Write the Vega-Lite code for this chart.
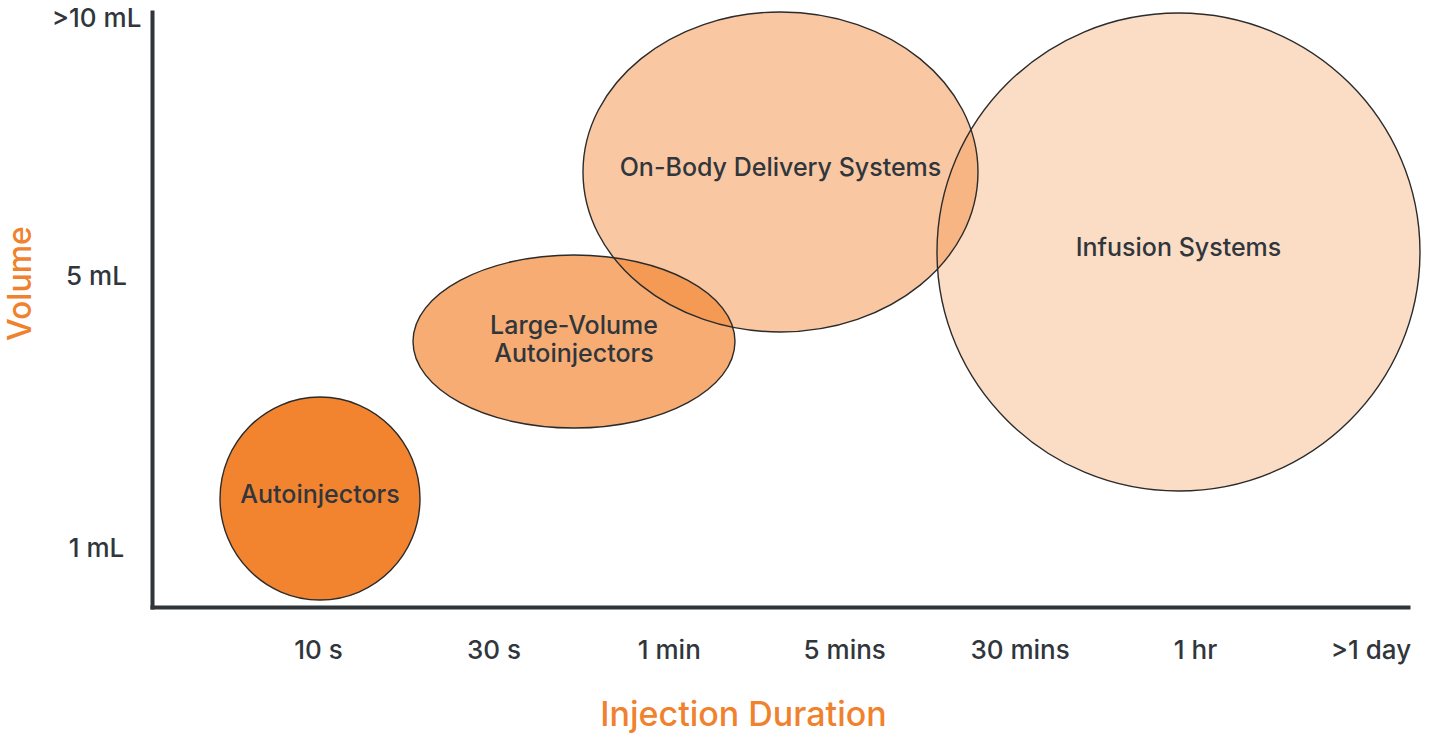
{
  "$schema": "https://vega.github.io/schema/vega-lite/v6.json",
  "width": 1256,
  "height": 595,
  "autosize": {"type": "none"},
  "padding": {"left": 152, "top": 12, "right": 22, "bottom": 133},
  "background": "white",
  "config": {"view": {"stroke": null}, "font": "Inter"},
  "data": {
    "values": [
      {"device": "Autoinjectors", "duration": 1.0114, "volume": 1.19, "label": "Autoinjectors"},
      {"device": "Large-Volume Autoinjectors", "duration": 2.4595, "volume": 1.7815, "label": "Large-Volume\nAutoinjectors"},
      {"device": "On-Body Delivery Systems", "duration": 3.6368, "volume": 2.42, "label": "On-Body Delivery Systems"},
      {"device": "Infusion Systems", "duration": 5.9059, "volume": 2.1186, "label": "Infusion Systems"}
    ]
  },
  "encoding": {
    "x": {
      "field": "duration",
      "type": "quantitative",
      "scale": {"domain": [0.0536, 7.2144], "nice": false, "zero": false},
      "axis": {
        "values": [1, 2, 3, 4, 5, 6, 7],
        "labelExpr": "['10 s','30 s','1 min','5 mins','30 mins','1 hr','>1 day'][datum.value-1]",
        "ticks": false,
        "tickSize": 0,
        "grid": false,
        "domainColor": "#2f353b",
        "domainWidth": 4,
        "domainCap": "square",
        "labelFontSize": 26,
        "labelFontWeight": 550,
        "labelColor": "#30363c",
        "labelPadding": 43,
        "labelBaseline": "middle",
        "labelFlush": false,
        "labelOverlap": false,
        "title": "Injection Duration",
        "titleFontSize": 34,
        "titleFontWeight": 550,
        "titleColor": "#F0822E",
        "titleX": 591,
        "titleY": 108,
        "titleBaseline": "middle",
        "titleAlign": "center"
      }
    },
    "y": {
      "field": "volume",
      "type": "quantitative",
      "scale": {"domain": [0.7815, 3.0226], "nice": false, "zero": false},
      "axis": {
        "values": [1, 2.0245, 3],
        "labelExpr": "datum.value < 1.5 ? '1 mL' : datum.value < 2.5 ? '5 mL' : '>10 mL'",
        "ticks": false,
        "tickSize": 0,
        "grid": false,
        "domainColor": "#2f353b",
        "domainWidth": 4,
        "domainCap": "square",
        "labelFontSize": 26,
        "labelFontWeight": 550,
        "labelColor": "#30363c",
        "labelPadding": 56,
        "labelAlign": "center",
        "labelBaseline": "middle",
        "labelFlush": false,
        "labelOverlap": false,
        "title": "Volume",
        "titleFontSize": 32,
        "titleFontWeight": 550,
        "titleColor": "#F0822E",
        "titleX": -132,
        "titleY": 271,
        "titleAngle": -90,
        "titleBaseline": "middle",
        "titleAlign": "center"
      }
    }
  },
  "layer": [
    {
      "mark": {"type": "point", "filled": true, "size": 4, "strokeWidth": 0, "opacity": 1},
      "encoding": {
        "shape": {
          "field": "device",
          "type": "nominal",
          "legend": null,
          "scale": {
            "domain": ["Autoinjectors", "Large-Volume Autoinjectors", "On-Body Delivery Systems", "Infusion Systems"],
            "range": [
              "M-100,0C-100,-56.06,-55.23,-101.5,0,-101.5C55.23,-101.5,100,-56.06,100,0C100,56.06,55.23,101.5,0,101.5C-55.23,101.5,-100,56.06,-100,0Z",
              "M-161,0C-161,-47.77,-88.92,-86.5,0,-86.5C88.92,-86.5,161,-47.77,161,0C161,47.77,88.92,86.5,0,86.5C-88.92,86.5,-161,47.77,-161,0Z",
              "M-197.5,0C-197.5,-88.37,-109.08,-160,0,-160C109.08,-160,197.5,-88.37,197.5,0C197.5,88.37,109.08,160,0,160C-109.08,160,-197.5,88.37,-197.5,0Z",
              "M-241.5,0C-241.5,-132,-133.38,-239,0,-239C133.38,-239,241.5,-132,241.5,0C241.5,132,133.38,239,0,239C-133.38,239,-241.5,132,-241.5,0Z"
            ]
          }
        },
        "color": {
          "field": "device",
          "type": "nominal",
          "legend": null,
          "scale": {
            "domain": ["Autoinjectors", "Large-Volume Autoinjectors", "On-Body Delivery Systems", "Infusion Systems"],
            "range": ["rgba(242,132,48,1)", "rgba(242,132,48,0.68)", "rgba(242,132,48,0.45)", "rgba(242,132,48,0.28)"]
          }
        }
      }
    },
    {
      "mark": {"type": "point", "filled": false, "size": 4, "stroke": "#2b2b2b", "strokeWidth": 1.4, "opacity": 1},
      "encoding": {
        "shape": {
          "field": "device",
          "type": "nominal",
          "legend": null,
          "scale": {
            "domain": ["Autoinjectors", "Large-Volume Autoinjectors", "On-Body Delivery Systems", "Infusion Systems"],
            "range": [
              "M-100,0C-100,-56.06,-55.23,-101.5,0,-101.5C55.23,-101.5,100,-56.06,100,0C100,56.06,55.23,101.5,0,101.5C-55.23,101.5,-100,56.06,-100,0Z",
              "M-161,0C-161,-47.77,-88.92,-86.5,0,-86.5C88.92,-86.5,161,-47.77,161,0C161,47.77,88.92,86.5,0,86.5C-88.92,86.5,-161,47.77,-161,0Z",
              "M-197.5,0C-197.5,-88.37,-109.08,-160,0,-160C109.08,-160,197.5,-88.37,197.5,0C197.5,88.37,109.08,160,0,160C-109.08,160,-197.5,88.37,-197.5,0Z",
              "M-241.5,0C-241.5,-132,-133.38,-239,0,-239C133.38,-239,241.5,-132,241.5,0C241.5,132,133.38,239,0,239C-133.38,239,-241.5,132,-241.5,0Z"
            ]
          }
        }
      }
    },
    {
      "transform": [{"filter": {"not": {"field": "device", "equal": "Large-Volume Autoinjectors"}}}],
      "mark": {"type": "text", "fontSize": 25, "fontWeight": 550, "color": "#30363c", "dy": -4, "align": "center", "baseline": "middle"},
      "encoding": {"text": {"field": "label", "type": "nominal"}}
    },
    {
      "transform": [{"filter": {"field": "device", "equal": "Large-Volume Autoinjectors"}}],
      "mark": {"type": "text", "fontSize": 25, "fontWeight": 550, "color": "#30363c", "lineBreak": "\n", "lineHeight": 28, "dy": -16, "align": "center", "baseline": "middle"},
      "encoding": {"text": {"field": "label", "type": "nominal"}}
    }
  ]
}
